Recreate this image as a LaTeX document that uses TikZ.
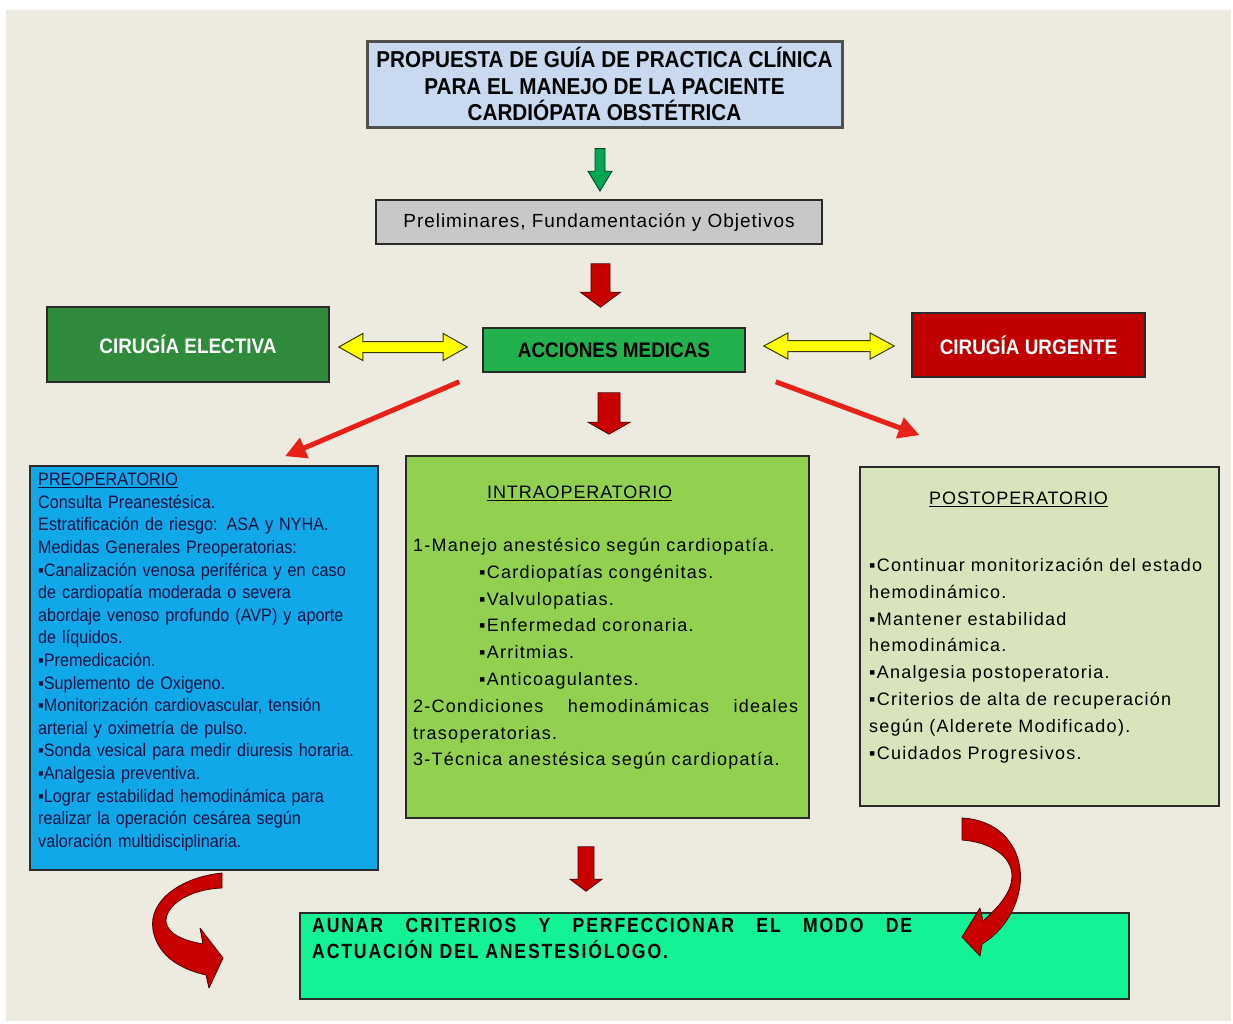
\documentclass[tikz,border=0pt]{standalone}
\usepackage{fontspec}
\setmainfont{Liberation Sans}
\newfontfamily\fcond{Liberation Sans}[FakeStretch=0.9]
\newfontfamily\fcondsp{Liberation Sans}[FakeStretch=0.86,LetterSpace=9]
\newfontfamily\fwide{Liberation Sans}[LetterSpace=5]
\newfontfamily\fwider{Liberation Sans}[LetterSpace=7]
\usetikzlibrary{calc,arrows.meta}
\definecolor{bgc}{HTML}{EDEAE0}
\definecolor{titlebl}{HTML}{C9DAF0}
\definecolor{titleedge}{HTML}{505050}
\definecolor{boxedge}{HTML}{2A2A2A}
\definecolor{prelgray}{HTML}{C8C8C8}
\definecolor{electg}{HTML}{2F8A3C}
\definecolor{accg}{HTML}{22B14C}
\definecolor{urgred}{HTML}{C00000}
\definecolor{preblue}{HTML}{10A8E8}
\definecolor{intrag}{HTML}{92D050}
\definecolor{postg}{HTML}{D8E4BC}
\definecolor{finalg}{HTML}{14F296}
\definecolor{arrred}{HTML}{C80000}
\definecolor{blkedge}{HTML}{500000}
\definecolor{linered}{HTML}{E8201A}
\definecolor{yel}{HTML}{FFFF00}
\definecolor{yeledge}{HTML}{3C3C00}
\definecolor{greenarr}{HTML}{00A651}
\definecolor{greenedge}{HTML}{004020}
\definecolor{pretext}{HTML}{101040}
% vertical block arrow: #1 start, #2 end, #3 fill, #4 shaft half width, #5 head half width, #6 head length, #7 edge
\newcommand\blkdown[7]{%
  \coordinate (bdT) at (#1 |- #2);
  \filldraw[fill=#3, draw=#7, line width=0.8pt, line join=miter]
   ($(#1)+(-#4,0)$) -- ($(#1)+(#4,0)$) -- ($(bdT)+(#4,-#6)$) -- ($(bdT)+(#5,-#6)$) -- (bdT)
   -- ($(bdT)+(-#5,-#6)$) -- ($(bdT)+(-#4,-#6)$) -- cycle;}
% horizontal double block arrow: #1 left tip, #2 right tip, #3 shaft half height, #4 head half height, #5 head length
\newcommand\blkboth[5]{%
  \coordinate (bhR) at (#2 |- #1);
  \filldraw[fill=yel, draw=yeledge, line width=1pt, line join=miter]
   (#1) -- ($(#1)+(#5,-#4)$) -- ($(#1)+(#5,-#3)$) -- ($(bhR)+(-#5,-#3)$) -- ($(bhR)+(-#5,-#4)$) -- (bhR)
   -- ($(bhR)+(-#5,#4)$) -- ($(bhR)+(-#5,#3)$) -- ($(#1)+(#5,#3)$) -- ($(#1)+(#5,#4)$) -- cycle;}
\begin{document}
\begin{tikzpicture}[x=1pt,y=-1pt,
  box/.style={draw=boxedge, line width=1.6pt, inner sep=0pt},
  boldlabel/.style={font=\fcond\bfseries\fontsize{21}{24}\selectfont},
  pretxt/.style={anchor=north west, inner sep=0pt, text width=345pt, align=left, text=pretext,
     font=\fcond\fontsize{18}{22.6}\selectfont},
  widetxt/.style={anchor=north west, inner sep=0pt, align=left,
     font=\fwider\fontsize{18}{26.8}\selectfont},
  redline/.style={draw=linered, line width=5pt, -{Triangle[length=21pt,width=21pt]}},
  curvearr/.style={fill=arrred, draw=blkedge, line width=0.8pt, line join=round}]
\useasboundingbox (0,0) rectangle (1233,1023);
\fill[white] (0,0) rectangle (1233,1023);
\fill[bgc] (6,10) rectangle (1231,1021);

% ---------- boxes ----------
\node[box, draw=titleedge, line width=3pt, fill=titlebl, minimum width=475pt, minimum height=86pt,
      align=center, font=\fcond\bfseries\fontsize{23}{26.5}\selectfont] (title) at (604.5,84)
  {PROPUESTA DE GUÍA DE PRACTICA CLÍNICA\\PARA EL MANEJO DE LA PACIENTE\\CARDIÓPATA OBSTÉTRICA};
\node[box, fill=prelgray, minimum width=446pt, minimum height=44pt,
      font=\fwide\fontsize{19}{22}\selectfont] (prel) at (599,222)
  {Preliminares, Fundamentación y Objetivos};
\node[box, fill=electg, minimum width=282pt, minimum height=75pt, boldlabel, text=white] (elect) at (188,344.5)
  {CIRUGÍA ELECTIVA};
\node[box, fill=accg, minimum width=262pt, minimum height=44pt, boldlabel, text=black] (acc) at (614,350)
  {ACCIONES MEDICAS};
\node[box, fill=urgred, minimum width=233pt, minimum height=64pt, boldlabel, text=white] (urg) at (1028.5,345)
  {CIRUGÍA URGENTE};
\node[box, fill=preblue, minimum width=348pt, minimum height=404pt] (pre) at (204,668) {};
\node[box, fill=intrag, minimum width=403pt, minimum height=362pt] (intra) at (607.5,637) {};
\node[box, fill=postg, minimum width=359pt, minimum height=339pt] (post) at (1039.5,636.5) {};
\node[box, fill=finalg, minimum width=829pt, minimum height=86pt] (final) at (714.5,956) {};

% ---------- box texts ----------
\node[pretxt] (pretext) at (38,473)
 {\underline{PREOPERATORIO}\\
  Consulta Preanestésica.\\
  Estratificación de riesgo: ASA y NYHA.\\
  Medidas Generales Preoperatorias:\\
  ▪Canalización venosa periférica y en caso\\
  de cardiopatía moderada o severa\\
  abordaje venoso profundo (AVP) y aporte\\
  de líquidos.\\
  ▪Premedicación.\\
  ▪Suplemento de Oxigeno.\\
  ▪Monitorización cardiovascular, tensión\\
  arterial y oximetría de pulso.\\
  ▪Sonda vesical para medir diuresis horaria.\\
  ▪Analgesia preventiva.\\
  ▪Lograr estabilidad hemodinámica para\\
  realizar la operación cesárea según\\
  valoración multidisciplinaria.};

\node[widetxt, anchor=west, font=\fwide\fontsize{18}{26.8}\selectfont] (intrahead) at (487,493) {\underline{INTRAOPERATORIO}};
\node[widetxt, text width=395pt] (intratext) at (413,538)
 {1-Manejo anestésico según cardiopatía.\\
  \hspace*{66pt}▪Cardiopatías congénitas.\\
  \hspace*{66pt}▪Valvulopatias.\\
  \hspace*{66pt}▪Enfermedad coronaria.\\
  \hspace*{66pt}▪Arritmias.\\
  \hspace*{66pt}▪Anticoagulantes.\\
  \leavevmode\hbox to 385pt{2-Condiciones\hfill hemodinámicas\hfill ideales}\\
  trasoperatorias.\\
  3-Técnica anestésica según cardiopatía.};

\node[widetxt, anchor=west, font=\fwide\fontsize{18}{26.8}\selectfont] (posthead) at (929,499) {\underline{POSTOPERATORIO}};
\node[widetxt, text width=350pt] (posttext) at (869,558)
 {▪Continuar monitorización del estado\\
  hemodinámico.\\
  ▪Mantener estabilidad\\
  hemodinámica.\\
  ▪Analgesia postoperatoria.\\
  ▪Criterios de alta de recuperación\\
  según (Alderete Modificado).\\
  ▪Cuidados Progresivos.};

\node[anchor=north west, inner sep=0pt, text width=605pt, align=left,
      font=\fcondsp\bfseries\fontsize{20.5}{26}\selectfont] (finaltext) at (312,918)
 {\leavevmode\hbox to 600pt{AUNAR\hfill CRITERIOS\hfill Y\hfill PERFECCIONAR\hfill EL\hfill MODO\hfill DE}\\
  ACTUACIÓN DEL ANESTESIÓLOGO.};

% ---------- block arrows ----------
\coordinate (g1s) at ($(title.south)+(-4.5,20)$);
\coordinate (g1e) at ($(prel.north)+(1,-8)$);
\blkdown{g1s}{g1e}{greenarr}{5}{12}{20}{greenedge}
\coordinate (r1s) at ($(prel.south)+(1.5,19)$);
\coordinate (r1e) at ($(acc.north)+(-13.5,-20)$);
\blkdown{r1s}{r1e}{arrred}{9.5}{20}{15}{blkedge}
\coordinate (r2s) at ($(acc.south)+(-5,20)$);
\coordinate (r2e) at ($(intra.north)+(1.5,-21)$);
\blkdown{r2s}{r2e}{arrred}{11}{21}{12}{blkedge}
\coordinate (r3s) at ($(intra.south)+(-21.5,28)$);
\coordinate (r3e) at ($(final.north)+(-128.5,-21)$);
\blkdown{r3s}{r3e}{arrred}{8}{16}{12}{blkedge}

% ---------- yellow double arrows ----------
\coordinate (y1l) at ($(elect.east)+(9,2.5)$);
\coordinate (y1r) at ($(acc.west)+(-15,-3)$);
\blkboth{y1l}{y1r}{5.5}{13.5}{24}
\coordinate (y2l) at ($(acc.east)+(18,-4)$);
\coordinate (y2r) at ($(urg.west)+(-17,1)$);
\blkboth{y2l}{y2r}{5.5}{13}{24}

% ---------- red line arrows ----------
\draw[redline] ($(acc.south west)+(-23,9)$) -- ($(pre.north)+(81,-9)$);
\draw[redline] ($(acc.south east)+(30,9)$) -- ($(post.north)+(-120,-31)$);

% ---------- curved arrows ----------
\filldraw[curvearr]
  (222,873) .. controls (182,877) and (148,900) .. (153,930)
  .. controls (158,958) and (184,970) .. (206,975)
  -- (209,988) -- (223,958) -- (200,928) -- (203,944)
  .. controls (186,941) and (168,935) .. (166,922)
  .. controls (165,905) and (190,889) .. (222,888) -- cycle;
\filldraw[curvearr]
  (962,818) .. controls (1002,820) and (1024,850) .. (1020,885)
  .. controls (1017,910) and (1002,932) .. (982,944)
  -- (980,956) -- (962,937) -- (980,908) -- (983,921)
  .. controls (1000,906) and (1012,891) .. (1012,876)
  .. controls (1012,856) and (990,842) .. (962,840) -- cycle;
\end{tikzpicture}
\end{document}
